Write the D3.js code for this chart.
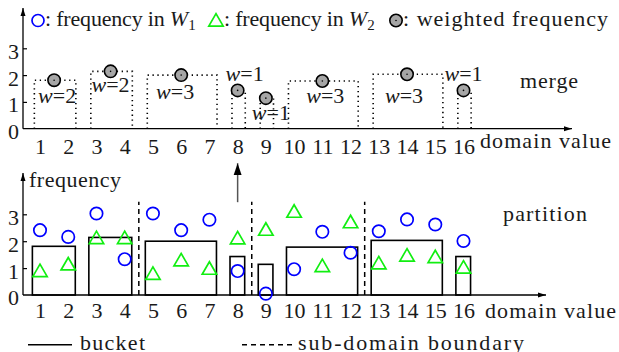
<!DOCTYPE html>
<html>
<head>
<meta charset="utf-8">
<title>merge / partition</title>
<style>
  body { margin: 0; background: #fff; }
  svg text { font-family: "Liberation Serif", serif; fill: #1a1a1a; }
  .tick text { font-size: 22px; font-family: "Liberation Serif", serif; fill: #1a1a1a; }
  .lbl { font-size: 22px; }
</style>
</head>
<body>
<svg id="chart" width="619" height="352"></svg>
<script src="https://d3js.org/d3.v7.min.js"></script>
<script>

// values
var domainValues = [1, 2, 3, 4, 5, 6, 7, 8, 9, 10, 11, 12, 13, 14, 15, 16];
var freqW1 = [2.41, 2.16, 3.03, 1.33, 3.03, 2.41, 2.80, 0.89, 0.05, 0.96, 2.35, 1.57, 2.37, 2.81, 2.62, 2.01];
var freqW2 = [0.91, 1.16, 2.14, 2.14, 0.81, 1.31, 1.00, 2.13, 2.45, 3.12, 1.10, 2.73, 1.20, 1.49, 1.43, 1.04];
var bucketStart  = [1, 3, 5, 8, 9, 10, 13, 16];
var bucketEnd    = [2, 4, 7, 8, 9, 12, 15, 16];
var bucketFreq   = [1.81, 2.14, 2.00, 1.43, 1.14, 1.78, 2.03, 1.43];
var bucketWeight = [2, 2, 3, 1, 1, 3, 3, 1];
var subDomainBounds = [4.5, 8.5, 12.5];
var yTicks = [0, 1, 2, 3];

// where the w= labels sit relative to their weighted point (px)
var wLabelOffset = [[3, 23], [0, 21], [-6, 24], [7, -9], [5, 22], [3, 22], [-3, 29], [0, -9]];

var buckets = bucketStart.map(function(s, i) {
  return {lo: s, hi: bucketEnd[i], f: bucketFreq[i], w: bucketWeight[i], off: wLabelOffset[i]};
});
var points = domainValues.map(function(v, i) {
  return {v: v, f1: freqW1[i], f2: freqW2[i]};
});

var svg = d3.select("#chart");

var x = d3.scaleLinear().domain([1, 16]).range([40, 463.5]);
var yTop = d3.scaleLinear().domain([0, 3]).range([128.7, 48.3]);
var yBot = d3.scaleLinear().domain([0, 3]).range([295, 214.3]);
var axisX = 23;

// arrow heads
var defs = svg.append("defs");
defs.append("marker")
  .attr("id", "arr")
  .attr("markerUnits", "userSpaceOnUse")
  .attr("markerWidth", 10).attr("markerHeight", 10)
  .attr("viewBox", "0 -5 10 10")
  .attr("refX", 8).attr("refY", 0)
  .attr("orient", "auto")
  .append("path").attr("d", "M0,-2.5L8,0L0,2.5Z").attr("fill", "#000");
defs.append("marker")
  .attr("id", "arrBig")
  .attr("markerUnits", "userSpaceOnUse")
  .attr("markerWidth", 14).attr("markerHeight", 14)
  .attr("viewBox", "0 -7 14 14")
  .attr("refX", 12).attr("refY", 0)
  .attr("orient", "auto")
  .append("path").attr("d", "M0,-4L12,0L0,4Z").attr("fill", "#000");

function panelAxes(y, xEnd, yTip, labelPad) {
  var g = svg.append("g");
  // x axis (labels only)
  var xa = g.append("g")
    .attr("transform", "translate(0," + y(0) + ")")
    .call(d3.axisBottom(x).tickValues(domainValues).tickSize(0).tickPadding(labelPad).tickFormat(d3.format("d")));
  xa.select(".domain").remove();
  // y axis with inward ticks
  var ya = g.append("g")
    .attr("transform", "translate(" + axisX + ",0)")
    .call(d3.axisLeft(y).tickValues(yTicks).tickSize(-4).tickSizeOuter(0).tickPadding(4).tickFormat(d3.format("d")));
  ya.select(".domain").remove();
  ya.selectAll(".tick line").attr("stroke", "#000").attr("stroke-width", 1.2);
  ya.selectAll(".tick text").attr("dy", "0.45em");
  ya.selectAll(".tick").filter(function(d) { return d === 0; }).select("line").remove();

  g.append("line")
    .attr("x1", axisX).attr("x2", xEnd).attr("y1", y(0)).attr("y2", y(0))
    .attr("stroke", "#000").attr("stroke-width", 1.3).attr("marker-end", "url(#arr)");
  g.append("line")
    .attr("x1", axisX).attr("x2", axisX).attr("y1", y(0)).attr("y2", yTip)
    .attr("stroke", "#000").attr("stroke-width", 1.3).attr("marker-end", "url(#arr)");
}

panelAxes(yTop, 572, 8, 9.5);
panelAxes(yBot, 546, 173, 7.5);

// plain label helper, stretched to the width seen in the picture
function label(xp, yp, txt, len, anchor) {
  return svg.append("text").attr("class", "lbl")
    .attr("x", xp).attr("y", yp)
    .attr("text-anchor", anchor || "start")
    .attr("textLength", len).attr("lengthAdjust", "spacing")
    .text(txt);
}

// ---------- top panel: merge ----------
var gMerge = svg.append("g");

gMerge.selectAll("path.mbucket")
  .data(buckets)
  .enter().append("path")
  .attr("class", "mbucket")
  .attr("d", function(d) {
    return "M" + x(d.lo - 0.2) + "," + yTop(0) + "V" + yTop(d.f) + "H" + x(d.hi + 0.27) + "V" + yTop(0);
  })
  .attr("fill", "none").attr("stroke", "#000").attr("stroke-width", 1.6)
  .attr("stroke-dasharray", "1.3,3.6");

gMerge.selectAll("text.wlab")
  .data(buckets)
  .enter().append("text")
  .attr("class", "wlab")
  .attr("x", function(d) { return x((d.lo + d.hi) / 2) + d.off[0]; })
  .attr("y", function(d) { return yTop(d.f) + d.off[1]; })
  .attr("text-anchor", "middle")
  .style("font-size", "22px")
  .each(function(d) {
    var t = d3.select(this);
    t.append("tspan").style("font-style", "italic").text("w");
    t.append("tspan").text("=" + d.w);
  });

var wp = gMerge.selectAll("g.wpt")
  .data(buckets)
  .enter().append("g")
  .attr("class", "wpt")
  .attr("transform", function(d) { return "translate(" + x((d.lo + d.hi) / 2) + "," + yTop(d.f) + ")"; });
wp.append("circle").attr("r", 6.2).attr("fill", "#a6a6a6").attr("stroke", "#000").attr("stroke-width", 1.6);
wp.append("circle").attr("r", 0.8).attr("fill", "#000");

label(480, 148, "domain value", 131);
label(520, 88, "merge", 58);

// legend on top
var tri = d3.symbol().type(d3.symbolTriangle).size(90);
var lg = svg.append("g");
lg.append("circle").attr("cx", 38).attr("cy", 20.5).attr("r", 6).attr("fill", "none").attr("stroke", "#0000ff").attr("stroke-width", 1.7);
lg.append("path").attr("d", tri).attr("transform", "translate(216,22)").attr("fill", "none").attr("stroke", "#11ee11").attr("stroke-width", 1.7);
lg.append("circle").attr("cx", 396).attr("cy", 20.5).attr("r", 6.2).attr("fill", "#a6a6a6").attr("stroke", "#000").attr("stroke-width", 1.6);
lg.append("circle").attr("cx", 396).attr("cy", 20.5).attr("r", 0.8).attr("fill", "#000");

function legendText(xp, txt, sub, len) {
  var t = lg.append("text").attr("x", xp).attr("y", 26).style("font-size", "22px");
  var main = t.append("tspan").text(txt);
  if (len) main.attr("textLength", len).attr("lengthAdjust", "spacing");
  if (sub) {
    t.append("tspan").style("font-style", "italic").text("W");
    t.append("tspan").attr("dy", 4).style("font-size", "15px").text(sub);
  }
}
legendText(45, ": frequency in ", "1", 125);
legendText(224, ": frequency in ", "2", 125);
legendText(403, ": weighted frequency", null, 205);

// ---------- bottom panel: partition ----------
var gPart = svg.append("g");

gPart.selectAll("rect.bucket")
  .data(buckets)
  .enter().append("rect")
  .attr("class", "bucket")
  .attr("x", function(d) { return x(d.lo - 0.27); })
  .attr("y", function(d) { return yBot(d.f); })
  .attr("width", function(d) { return x(d.hi + 0.25) - x(d.lo - 0.27); })
  .attr("height", function(d) { return yBot(0) - yBot(d.f); })
  .attr("fill", "none").attr("stroke", "#000").attr("stroke-width", 1.6);

gPart.selectAll("line.sub")
  .data(subDomainBounds)
  .enter().append("line")
  .attr("class", "sub")
  .attr("x1", function(d) { return x(d); }).attr("x2", function(d) { return x(d); })
  .attr("y1", yBot(0)).attr("y2", yBot(3.47))
  .attr("stroke", "#000").attr("stroke-width", 1.5).attr("stroke-dasharray", "5,4");

gPart.selectAll("circle.w1")
  .data(points)
  .enter().append("circle")
  .attr("class", "w1")
  .attr("cx", function(d) { return x(d.v); })
  .attr("cy", function(d) { return yBot(d.f1); })
  .attr("r", 6.2)
  .attr("fill", "none").attr("stroke", "#0000ff").attr("stroke-width", 1.7);

gPart.selectAll("path.w2")
  .data(points)
  .enter().append("path")
  .attr("class", "w2")
  .attr("d", tri)
  .attr("transform", function(d) { return "translate(" + x(d.v) + "," + (yBot(d.f2) + 2) + ")"; })
  .attr("fill", "none").attr("stroke", "#11ee11").attr("stroke-width", 1.7);

// arrow between panels
svg.append("line")
  .attr("x1", x(8)).attr("x2", x(8))
  .attr("y1", yBot(3.45)).attr("y2", yBot(4.9))
  .attr("stroke", "#555").attr("stroke-width", 1.5).attr("marker-end", "url(#arrBig)");

label(29, 187, "frequency", 92);
label(485, 318, "domain value", 131);
label(503, 221, "partition", 84);

// bottom legend
svg.append("line").attr("x1", 28).attr("x2", 72).attr("y1", 344.7).attr("y2", 344.7)
  .attr("stroke", "#000").attr("stroke-width", 1.6);
label(80, 350, "bucket", 65);
svg.append("line").attr("x1", 242).attr("x2", 295).attr("y1", 344.7).attr("y2", 344.7)
  .attr("stroke", "#000").attr("stroke-width", 1.5).attr("stroke-dasharray", "5,4");
label(298, 350, "sub-domain boundary", 226);

</script>
</body>
</html>
